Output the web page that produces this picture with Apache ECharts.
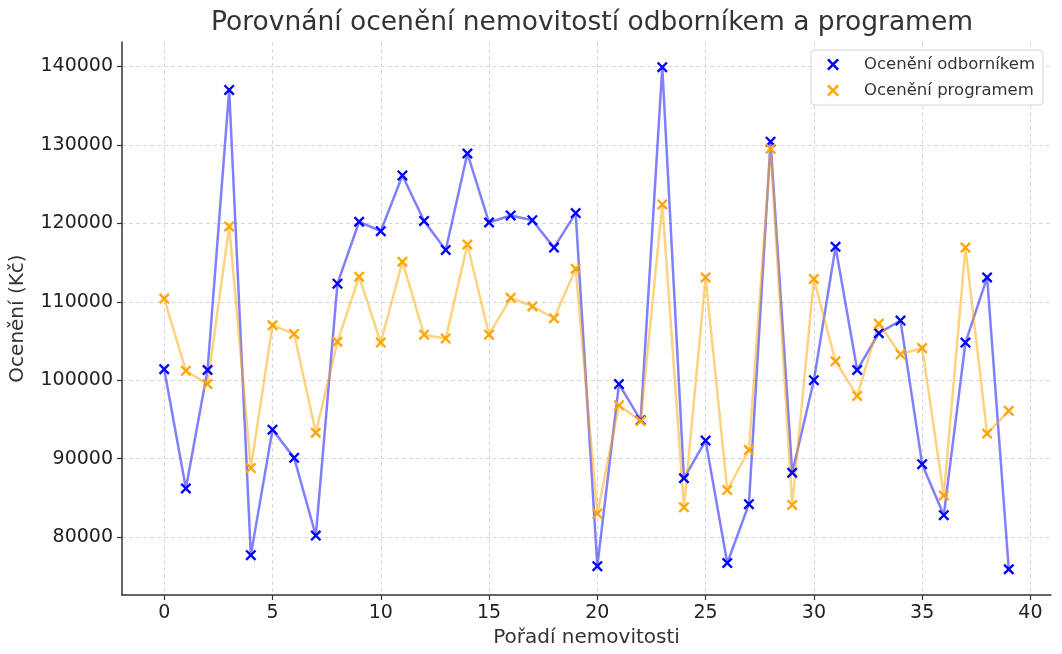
<!DOCTYPE html>
<html lang="cs">
<head>
    <meta charset="UTF-8">
    <script src="https://cdn.jsdelivr.net/npm/echarts@6/dist/echarts.min.js"></script>
    <title>Porovnání ocenění</title>
    <style>
        html, body { margin: 0; padding: 0; background: #fff; }
        #chart { width: 1062px; height: 654px; }
    </style>
</head>
<body>
    <div id="chart"></div>
<script>
    // pořadí nemovitostí 0..39
    var poradi = [];
    for (var i = 0; i < 40; i++) poradi.push(i);

    var odbornik = [101400, 86200, 101300, 137000, 77700, 93700, 90100, 80200, 112300, 120200,
        119000, 126100, 120300, 116600, 128900, 120100, 121000, 120400, 116900, 121300,
        76300, 99500, 94900, 139900, 87500, 92300, 76700, 84200, 130400, 88200,
        100000, 117000, 101300, 106000, 107600, 89300, 82800, 104800, 113100, 75900];

    var program = [110400, 101200, 99500, 119600, 88800, 107000, 105900, 93300, 104900, 113200,
        104800, 115100, 105800, 105300, 117300, 105800, 110500, 109400, 107900, 114200,
        83000, 96800, 94800, 122400, 83800, 113100, 86000, 91100, 129500, 84100,
        112900, 102400, 98000, 107200, 103300, 104100, 85300, 116900, 93200, 96100];

    var xTicks = [0, 5, 10, 15, 20, 25, 30, 35, 40];
    var yTicks = [80000, 90000, 100000, 110000, 120000, 130000, 140000];

    var krizek = 'path://M0,1.5L1.5,0L10,8.5L8.5,10ZM8.5,0L10,1.5L1.5,10L0,8.5Z';
    var textColor = '#333';
    var tickColor = '#222';
    var fontName = 'DejaVu Sans';

    function rada(jmeno, hodnoty, barva) {
        return {
            name: jmeno,
            type: 'line',
            data: poradi.map(function (p, k) { return [p, hodnoty[k]]; }),
            symbol: krizek,
            symbolSize: 11,
            showAllSymbol: true,
            itemStyle: { color: barva, opacity: 1 },
            lineStyle: { color: barva, width: 2.5, opacity: 0.5 },
            emphasis: { disabled: true },
            z: 2
        };
    }

    var myChart = echarts.init(document.getElementById('chart'));
    myChart.setOption({
        animation: false,
        textStyle: { fontFamily: fontName },
        title: {
            text: 'Porovnání ocenění nemovitostí odborníkem a programem',
            left: 587,
            textAlign: 'center',
            top: 5,
            textStyle: { fontSize: 26.5, fontWeight: 'normal', color: textColor, fontFamily: fontName }
        },
        legend: {
            orient: 'vertical',
            right: 19,
            top: 50,
            padding: [6, 8, 6, 16],
            itemGap: 9,
            itemWidth: 12,
            itemHeight: 12,
            backgroundColor: '#fff',
            borderColor: '#d4d4d4',
            borderWidth: 1,
            borderRadius: 4,
            textStyle: { fontSize: 16.5, color: textColor, padding: [0, 0, 0, 20], fontFamily: fontName },
            data: [
                { name: 'Ocenění odborníkem', icon: krizek },
                { name: 'Ocenění programem', icon: krizek }
            ]
        },
        grid: { left: 122, right: 11, top: 42, bottom: 59, outerBoundsMode: 'none', containLabel: false },
        xAxis: {
            type: 'value',
            min: -1.95,
            max: 40.95,
            name: 'Pořadí nemovitosti',
            nameLocation: 'middle',
            nameGap: 33,
            nameTextStyle: { fontSize: 20, color: textColor, fontFamily: fontName },
            axisLine: { show: true, onZero: false, lineStyle: { color: '#333', width: 1.5 } },
            axisTick: { show: true, length: 5, lineStyle: { color: '#333', width: 1.2 }, customValues: xTicks },
            axisLabel: { fontSize: 19, color: tickColor, margin: 9, customValues: xTicks },
            splitLine: { show: true, lineStyle: { color: '#d6d6d6', type: [4, 3], width: 1 } }
        },
        yAxis: {
            type: 'value',
            min: 72620,
            max: 143110,
            name: 'Ocenění (Kč)',
            nameLocation: 'middle',
            nameGap: 94,
            nameRotate: 90,
            nameTextStyle: { fontSize: 20, color: textColor, fontFamily: fontName },
            axisLine: { show: true, onZero: false, lineStyle: { color: '#333', width: 1.5 } },
            axisTick: { show: true, length: 5, lineStyle: { color: '#333', width: 1.2 }, customValues: yTicks },
            axisLabel: {
                fontSize: 19, color: tickColor, margin: 9, customValues: yTicks,
                formatter: function (v) { return String(v); }
            },
            splitLine: { show: true, lineStyle: { color: '#d6d6d6', type: [4, 3], width: 1 } }
        },
        series: [
            rada('Ocenění odborníkem', odbornik, '#0000ff'),
            rada('Ocenění programem', program, '#ffa500')
        ]
    });
</script>
</body>
</html>
